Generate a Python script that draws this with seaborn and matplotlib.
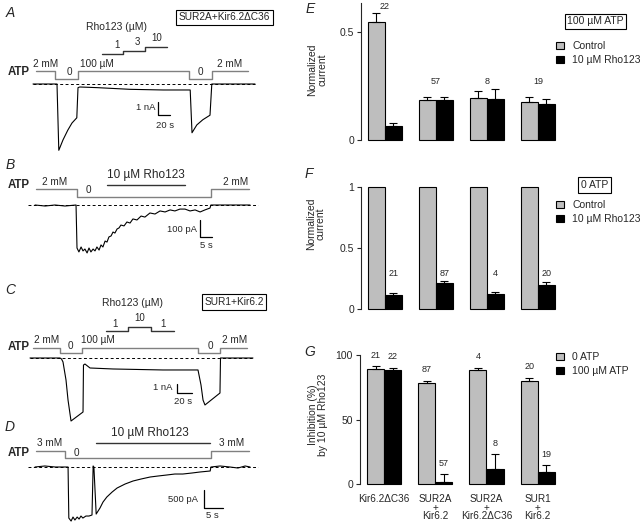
import numpy as np
import pandas as pd
import seaborn as sns
import matplotlib.pyplot as plt
from matplotlib.patches import Patch

W, H = 643, 528

# ---------------- left column: current traces ----------------
# A  SUR2A+Kir6.2dC36   (time s, current nA)
a_t = [0, 40, 43, 50, 58, 65, 73, 75, 78, 107, 162, 217, 262, 265, 273, 283, 295, 298, 370]
a_i = [0, 0, -5.1, -4.3, -3.55, -3.0, -2.6, -0.28, -0.23, -0.28, -0.41, -0.46, -0.46,
       -3.75, -3.15, -2.75, -2.4, 0, 0]
a_atp_edges = [5, 37, 75, 260, 298, 358]
a_atp_high = [1, 0, 1, 0, 1]
a_rho_edges = [115, 150, 187, 223]
a_rho_conc = [1, 3, 10]

# B  10 uM Rho123 in 0 ATP   (time s, current pA)
b_t = [0, 4.2, 8.3, 12.5, 17.1, 17.5, 18.3, 19.2, 20, 20.8, 21.7, 22.5, 23.3, 24.2, 25,
       25.8, 26.7, 27.5, 28.3, 29.2, 30, 30.8, 31.7, 32.5, 33.3, 34.2, 35, 35.8, 37.1,
       38.3, 39.6, 40.8, 42.5, 44.2, 45.8, 47.9, 50, 52.1, 54.2, 56.3, 58.3, 60.4, 62.5,
       64.6, 66.7, 68.8, 70.8, 72.9, 73.3, 81.3, 89.6]
b_i = [0, -6, 0, -6, 0, -253, -276, -247, -270, -259, -282, -253, -276, -259, -270,
       -247, -265, -235, -247, -212, -218, -188, -182, -159, -165, -141, -135, -118, -123,
       -100, -106, -82, -88, -65, -71, -47, -53, -35, -41, -29, -35, -24, -24,
       -35, -29, -41, -29, -18, 0, 0, 0]
b_atp_edges = [0.4, 17.5, 73.3, 89.2]
b_atp_high = [1, 0, 1]
b_rho_edges = [30, 62.5]

# C  SUR1+Kir6.2   (time s, current nA)
c_t = [0, 40, 42, 44, 48, 50.7, 54.7, 70.7, 71.3, 73.3, 80, 110.7, 177.3, 224, 228,
       230.7, 233.3, 253.3, 254, 297.3]
c_i = [0, 0, -0.11, -0.44, -2.44, -4.67, -7.0, -6.0, -0.78, -0.67, -1.11, -1.22, -1.33,
       -1.33, -3.0, -4.67, -5.22, -3.89, 0, 0]
c_atp_edges = [4, 40, 69.3, 224, 253.3, 289.3]
c_atp_high = [1, 0, 1, 0, 1]
c_rho_edges = [101.3, 130.7, 161.3, 192]
c_rho_conc = [1, 10, 1]

# D  10 uM Rho123 in 0 ATP   (time s, current pA)
d_t = [0, 2.6, 5.3, 8.7, 8.9, 9.5, 10, 10.5, 11.1, 11.6, 12.1, 12.6, 13.4, 14.2, 15,
       15.3, 15.5, 16.1, 16.6, 17.1, 17.9, 18.9, 20.3, 21.6, 23.7, 25.8, 27.9, 30.3,
       32.4, 34.7, 36.8, 38.9, 41.3, 43.4, 46.1, 46.3, 48.7, 51.3, 53.4, 55.3, 56.6]
d_i = [0, 28, 0, 0, -1418, -1501, -1390, -1473, -1390, -1446, -1362, -1418, -1362,
       -1362, -1334, 28, 0, -1307, -1223, -1140, -973, -834, -695, -584, -473, -389,
       -334, -278, -250, -222, -195, -195, -167, -139, -111, 0, 28, 0, -28, 28, 0]
d_atp_edges = [0.3, 7.9, 46.3, 56.3]
d_atp_high = [1, 0, 1]
d_rho_edges = [16.1, 46.1]

# ---------------- right column: bar charts ----------------
constructs = ["Kir6.2\u0394C36", "SUR2A\n+\nKir6.2", "SUR2A\n+\nKir6.2\u0394C36", "SUR1\n+\nKir6.2"]

e_ctrl = [0.545, 0.185, 0.193, 0.177]
e_ctrl_sem = [0.042, 0.015, 0.035, 0.023]
e_rho = [0.066, 0.185, 0.188, 0.165]
e_rho_sem = [0.014, 0.015, 0.047, 0.025]
e_n = [22, 57, 8, 19]

f_ctrl = [1, 1, 1, 1]
f_ctrl_sem = [0, 0, 0, 0]
f_rho = [0.114, 0.215, 0.122, 0.198]
f_rho_sem = [0.021, 0.018, 0.017, 0.022]
f_n = [21, 87, 4, 20]

g_zero = [89, 78.5, 88, 80]
g_zero_sem = [2.5, 1.5, 2, 2.4]
g_atp = [88.3, 1.5, 11.5, 9]
g_atp_sem = [1.7, 6.2, 11.5, 5.7]
g_zero_n = [21, 87, 4, 20]
g_atp_n = [22, 57, 8, 19]

GRAY = "#bebebe"
PROT = "#808080"

sns.set_style("ticks")
plt.rcParams["font.family"] = ["Liberation Sans", "DejaVu Sans"]
plt.rcParams["axes.linewidth"] = 0.8

fig = plt.figure(figsize=(W / 100, H / 100), dpi=100)


def ftext(x, y, s, size=7.5, ha="center", **kw):
    fig.text(x / W, 1 - y / H, s, fontsize=size, ha=ha, va="center", **kw)


# panel geometry: box top/bottom px, x origin px, px per s, baseline px, px per unit
panels = {
    "A": dict(top=0, bot=158, x0=33, sx=0.6, base=84, sy=13),
    "B": dict(top=158, bot=268, x0=35, sx=2.4, base=205, sy=0.17),
    "C": dict(top=268, bot=425, x0=30, sx=0.75, base=358, sy=9),
    "D": dict(top=425, bot=528, x0=35, sx=3.8, base=467, sy=0.036),
}


def tx(p, x):
    return (x - p["x0"]) / p["sx"]


def ty(p, y):
    return -(y - p["base"]) / p["sy"]


def trace_axes(p):
    ax = fig.add_axes([0, 1 - p["bot"] / H, 300 / W, (p["bot"] - p["top"]) / H])
    ax.set_xlim(tx(p, 0), tx(p, 300))
    ax.set_ylim(ty(p, p["bot"]), ty(p, p["top"]))
    ax.axis("off")
    return ax


def steps(ax, p, edges, levels_px, color, lw=1.0):
    ys = [ty(p, v) for v in levels_px]
    ys = ys + [ys[-1]]
    ax.plot(edges, ys, drawstyle="steps-post", color=color, lw=lw, clip_on=False)


def scalebar(ax, p, xpx, ypx, dt, di):
    x0, y0 = tx(p, xpx), ty(p, ypx)
    ax.plot([x0, x0, x0 + dt], [y0 + di, y0, y0], color="black", lw=0.9, clip_on=False)


def zero_line(ax, p, x1, x2):
    ax.plot([tx(p, x1), tx(p, x2)], [0, 0], color="black", lw=0.7,
            ls=(0, (3, 2.5)), clip_on=False)


# ---- A
p = panels["A"]
ax = trace_axes(p)
zero_line(ax, p, 33, 255)
sns.lineplot(x=a_t, y=a_i, ax=ax, color="black", lw=0.8, sort=False)
steps(ax, p, a_atp_edges, [71 if h else 79 for h in a_atp_high], PROT)
steps(ax, p, a_rho_edges, [{1: 54, 3: 51, 10: 47}[c] for c in a_rho_conc], "#333333")
scalebar(ax, p, 158, 115, 20, 1)
ftext(10, 13, "A", size=10, style="italic")
ftext(224.5, 17.5, "SUR2A+Kir6.2\u0394C36", size=7.3,
      bbox=dict(boxstyle="square,pad=0.25", fc="white", ec="black", lw=0.8))
ftext(117, 27, "Rho123 (\u00b5M)")
ftext(117, 45, "1", size=7)
ftext(137, 42, "3", size=7)
ftext(157, 38, "10", size=7)
ftext(19, 72, "ATP", size=8.3, weight="bold")
ftext(46, 64, "2 mM", size=7.2)
ftext(69, 72, "0", size=7.2)
ftext(97, 64, "100 \u00b5M", size=7.2)
ftext(200, 72, "0", size=7.2)
ftext(230, 64, "2 mM", size=7.2)
ftext(155, 108, "1 nA", size=6.8, ha="right")
ftext(165, 125, "20 s", size=6.8)

# ---- B
p = panels["B"]
ax = trace_axes(p)
zero_line(ax, p, 28, 258)
sns.lineplot(x=b_t, y=b_i, ax=ax, color="black", lw=0.8, sort=False)
steps(ax, p, b_atp_edges, [189 if h else 197 for h in b_atp_high], PROT)
steps(ax, p, b_rho_edges, [185], "#333333")
scalebar(ax, p, 200, 237, 5, 100)
ftext(10, 165, "B", size=10, style="italic")
ftext(19, 185, "ATP", size=8.3, weight="bold")
ftext(55, 182, "2 mM", size=7.2)
ftext(88, 190, "0", size=7.2)
ftext(236, 182, "2 mM", size=7.2)
ftext(146, 175, "10 \u00b5M Rho123", size=8.5)
ftext(197, 229, "100 pA", size=6.8, ha="right")
ftext(206, 246, "5 s", size=6.8)

# ---- C
p = panels["C"]
ax = trace_axes(p)
zero_line(ax, p, 30, 253)
sns.lineplot(x=c_t, y=c_i, ax=ax, color="black", lw=0.8, sort=False)
steps(ax, p, c_atp_edges, [348 if h else 353 for h in c_atp_high], PROT)
steps(ax, p, c_rho_edges, [{1: 331, 10: 327}[c] for c in c_rho_conc], "#333333")
scalebar(ax, p, 177, 393, 20, 1)
ftext(10, 290, "C", size=10, style="italic")
ftext(234, 302, "SUR1+Kir6.2", size=7.3,
      bbox=dict(boxstyle="square,pad=0.25", fc="white", ec="black", lw=0.8))
ftext(133, 303, "Rho123 (\u00b5M)")
ftext(115, 324, "1", size=7)
ftext(140, 318, "10", size=7)
ftext(163, 324, "1", size=7)
ftext(19, 347, "ATP", size=8.3, weight="bold")
ftext(47, 340, "2 mM", size=7.2)
ftext(70, 346, "0", size=7.2)
ftext(98, 340, "100 \u00b5M", size=7.2)
ftext(210, 346, "0", size=7.2)
ftext(235, 340, "2 mM", size=7.2)
ftext(173, 388, "1 nA", size=6.8, ha="right")
ftext(183, 401, "20 s", size=6.8)

# ---- D
p = panels["D"]
ax = trace_axes(p)
zero_line(ax, p, 28, 258)
sns.lineplot(x=d_t, y=d_i, ax=ax, color="black", lw=0.8, sort=False)
steps(ax, p, d_atp_edges, [451 if h else 458 for h in d_atp_high], PROT)
steps(ax, p, d_rho_edges, [443], "#333333")
scalebar(ax, p, 204, 508, 5, 500)
ftext(10, 427, "D", size=10, style="italic")
ftext(150, 433, "10 \u00b5M Rho123", size=8.5)
ftext(19, 453, "ATP", size=8.3, weight="bold")
ftext(50, 443, "3 mM", size=7.2)
ftext(76, 453, "0", size=7.2)
ftext(232, 443, "3 mM", size=7.2)
ftext(198, 499, "500 pA", size=6.8, ha="right")
ftext(212, 515, "5 s", size=6.8)


# ---------------- bar panels ----------------
def bar_axes(x_left, y_top, y_bot):
    ax = fig.add_axes([x_left / W, 1 - y_bot / H, (640 - x_left) / W, (y_bot - y_top) / H])
    return ax


def bars(ax, ctrl, ctrl_sem, drug, drug_sem, names):
    df = pd.DataFrame({
        "construct": constructs * 2,
        "cond": [names[0]] * 4 + [names[1]] * 4,
        "value": list(ctrl) + list(drug),
    })
    sns.barplot(data=df, x="construct", y="value", hue="cond", order=constructs,
                hue_order=names, palette=[GRAY, "black"], saturation=1, width=0.667,
                edgecolor="black", linewidth=0.8, errorbar=None, legend=False, ax=ax)
    xs = np.arange(4)
    for off, vals, sem in [(-1 / 6, ctrl, ctrl_sem), (1 / 6, drug, drug_sem)]:
        keep = [i for i in range(4) if sem[i] > 0]
        if keep:
            ax.errorbar(xs[keep] + off, np.array(vals)[keep],
                        yerr=[np.zeros(len(keep)), np.array(sem)[keep]],
                        fmt="none", ecolor="black", elinewidth=0.8, capsize=2.8,
                        capthick=0.8, clip_on=False, zorder=1)
    ax.set_xlim(-0.47, (640 - 385) / 51)
    ax.set_xlabel("")
    ax.set_ylabel("")
    sns.despine(ax=ax, bottom=True)
    ax.tick_params(axis="x", length=0)
    ax.tick_params(axis="y", length=3, width=0.8, labelsize=7.5, pad=2)
    for patch in ax.patches:
        patch.set_clip_on(False)
    handles = [Patch(facecolor=GRAY, edgecolor="black", lw=0.8),
               Patch(facecolor="black", edgecolor="black", lw=0.8)]
    return handles


def legend(ax, handles, labels, x, y):
    ax.legend(handles, labels, loc="upper left", bbox_to_anchor=(x / W, 1 - y / H),
              bbox_transform=fig.transFigure, frameon=False, fontsize=7.5,
              handlelength=0.75, handleheight=0.75, handletextpad=0.8,
              labelspacing=0.4, borderpad=0, borderaxespad=0)


# ---- E
ax = bar_axes(361, 3, 140)
h = bars(ax, e_ctrl, e_ctrl_sem, e_rho, e_rho_sem, ["Control", "10 \u00b5M Rho123"])
ax.set_ylim(0, 0.634)
ax.set_yticks([0, 0.5], ["0", "0.5"])
ax.set_xticklabels([])
for i in range(4):
    top = max(e_ctrl[i] + e_ctrl_sem[i], e_rho[i] + e_rho_sem[i])
    ax.text(i, max(top + 7 / 216, 0.27), str(e_n[i]), ha="center", va="center", fontsize=6.5)
legend(ax, h, ["Control", "10 \u00b5M Rho123"], 556, 41)
ftext(595.5, 21.5, "100 \u00b5M ATP", size=7.5,
      bbox=dict(boxstyle="square,pad=0.25", fc="white", ec="black", lw=0.8))
ftext(310, 9, "E", size=10, style="italic")
ftext(317, 70, "Normalized\ncurrent", size=7.5, rotation=90, linespacing=1.0)

# ---- F
ax = bar_axes(361, 186.7, 309.3)
h = bars(ax, f_ctrl, f_ctrl_sem, f_rho, f_rho_sem, ["Control", "10 \u00b5M Rho123"])
ax.set_ylim(0, 1)
ax.set_yticks([0, 0.5, 1], ["0", "0.5", "1"])
ax.set_xticklabels([])
for i in range(4):
    top = f_rho[i] + f_rho_sem[i]
    ax.text(i + 1 / 6, max(top + 7 / 122.6, 0.29), str(f_n[i]), ha="center", va="center",
            fontsize=6.5)
legend(ax, h, ["Control", "10 \u00b5M Rho123"], 556, 200)
ftext(594.5, 185, "0 ATP", size=7.5,
      bbox=dict(boxstyle="square,pad=0.25", fc="white", ec="black", lw=0.8))
ftext(309, 174, "F", size=10, style="italic")
ftext(316, 224, "Normalized\ncurrent", size=7.5, rotation=90, linespacing=1.0)

# ---- G
ax = bar_axes(360, 355, 484)
h = bars(ax, g_zero, g_zero_sem, g_atp, g_atp_sem, ["0 ATP", "100 \u00b5M ATP"])
ax.set_ylim(0, 100)
ax.set_yticks([0, 50, 100], ["0", "50", "100"])
ax.set_xticks(range(4))
ax.set_xticklabels(constructs, fontsize=7.2, linespacing=0.85)
ax.tick_params(axis="x", pad=7)
for i in range(4):
    ax.text(i - 1 / 6, g_zero[i] + g_zero_sem[i] + 8.5, str(g_zero_n[i]), ha="center",
            va="center", fontsize=6.5)
    ax.text(i + 1 / 6, g_atp[i] + g_atp_sem[i] + 8.5, str(g_atp_n[i]), ha="center",
            va="center", fontsize=6.5)
legend(ax, h, ["0 ATP", "100 \u00b5M ATP"], 556, 352)
ftext(310, 352, "G", size=10, style="italic")
ftext(318, 415, "Inhibition (%)\nby 10 \u00b5M Rho123", size=7.5, rotation=90, linespacing=1.0)

fig.savefig("out.png", dpi=100)
